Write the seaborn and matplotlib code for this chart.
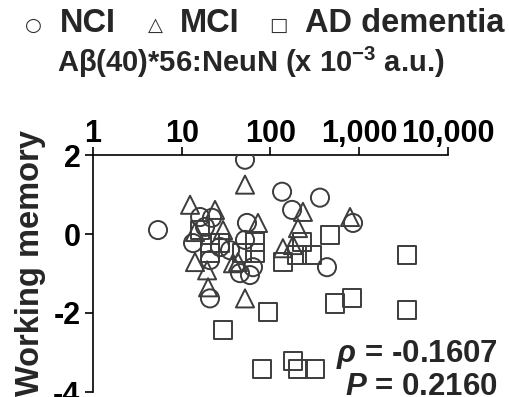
import numpy as np
import pandas as pd
import matplotlib
matplotlib.use("Agg")
import matplotlib.pyplot as plt
import seaborn as sns
from matplotlib.ticker import LogLocator, FuncFormatter, NullFormatter

# Data
nci_x = [5.4, 16.1, 21.9, 18.3, 13.4, 27.0, 35.0, 20.8, 20.8, 54.3,
         51.6, 45.3, 58.7, 63.5, 51.6, 135, 361, 175, 851, 433]
nci_y = [0.10, 0.43, 0.41, 0.18, -0.23, -0.33, -0.41, -0.66, -1.63, 0.28,
         -0.15, -0.99, -1.04, -0.84, 1.88, 1.07, 0.92, 0.61, 0.28, -0.84]

mci_x = [12.4, 23.7, 14.1, 29.2, 14.1, 19.3, 19.8, 37.8, 51.6, 51.6,
         72.3, 43.0, 138, 179, 204, 232, 787]
mci_y = [0.74, 0.61, 0.05, 0.10, -0.71, -0.92, -1.35, -0.74, 1.25, -1.63,
         0.28, -0.71, -0.36, -0.28, 0.15, 0.56, 0.43]

ad_x = [16.1, 20.8, 20.8, 27.0, 66.9, 47.7, 66.9, 29.2, 93.7, 80.2,
        179, 204, 317, 138, 199, 294, 226, 468, 533, 828, 3450, 3450]
ad_y = [0.10, -0.23, -0.48, -0.23, -0.20, -0.48, -0.48, -2.44, -1.98, -3.41,
        -3.21, -3.41, -3.41, -0.71, -0.53, -0.53, -0.20, -0.03, -1.76, -1.63, -0.53, -1.93]

groups = ["NCI", "MCI", "AD dementia"]
x_ticks = [1, 10, 100, 1000, 10000]
y_ticks = [2, 0, -2, -4]
rho_text = "-0.1607"
p_text = "0.2160"

df = pd.DataFrame({
    "abeta": nci_x + mci_x + ad_x,
    "wm": nci_y + mci_y + ad_y,
    "group": ["NCI"] * len(nci_x) + ["MCI"] * len(mci_x) + ["AD dementia"] * len(ad_x),
})

sns.set_style("ticks")
plt.rcParams["font.family"] = ["Liberation Sans", "DejaVu Sans"]
plt.rcParams["font.weight"] = "bold"
plt.rcParams["axes.unicode_minus"] = False
plt.rcParams["mathtext.fontset"] = "custom"
plt.rcParams["mathtext.rm"] = "Liberation Sans:bold"
plt.rcParams["mathtext.it"] = "Liberation Sans:bold:italic"
plt.rcParams["mathtext.default"] = "regular"

fig = plt.figure(figsize=(5.1, 3.97), dpi=100)
ax = fig.add_axes([93 / 510, 1 - 392 / 397, (448 - 93) / 510, (392 - 155) / 397])

edge = "#3c3c3c"
sns.scatterplot(data=df, x="abeta", y="wm", style="group", style_order=groups,
                markers={"NCI": "o", "MCI": "^", "AD dementia": "s"},
                s=170, fc="none", ec=edge, linewidth=1.4, legend=False, ax=ax, zorder=3)

ax.set_xscale("log")
ax.set_xlim(1, 10000)
ax.set_ylim(-4, 2)
ax.set_xticks(x_ticks)
ax.xaxis.set_minor_locator(LogLocator(base=10, subs=np.arange(2, 10)))
ax.xaxis.set_major_formatter(FuncFormatter(lambda v, p: f"{v:,.0f}"))
ax.xaxis.set_minor_formatter(NullFormatter())
ax.set_yticks(y_ticks)
ax.xaxis.tick_top()

ax.spines["bottom"].set_visible(False)
ax.spines["right"].set_visible(False)
for s in ["top", "left"]:
    ax.spines[s].set_linewidth(1.2)
    ax.spines[s].set_color("black")

ax.tick_params(axis="both", which="major", length=6, width=1.2, labelsize=22, colors="black")
ax.tick_params(axis="x", which="major", pad=-1.5)
ax.tick_params(axis="x", which="minor", length=3, width=1.0)
ax.tick_params(axis="y", pad=3)
ax.set_xlabel("")
ax.set_ylabel("")
for lab in ax.get_xticklabels() + ax.get_yticklabels():
    lab.set_fontweight("bold")

# legend-like header
sym_kw = dict(fontsize=14, ha="center", va="baseline", color="#333333",
              family=["DejaVu Sans"], fontweight="normal")
fig.text(33 / 510, 1 - 31 / 397, "○", **sym_kw)
fig.text(155 / 510, 1 - 31 / 397, "△", **sym_kw)
fig.text(278 / 510, 1 - 31 / 397, "□", **sym_kw)
lab_kw = dict(fontsize=23.5, ha="left", va="baseline", fontweight="bold")
fig.text(60 / 510, 1 - 32 / 397, groups[0], **lab_kw)
fig.text(180 / 510, 1 - 32 / 397, groups[1], **lab_kw)
fig.text(305 / 510, 1 - 32 / 397, groups[2], **lab_kw)
fig.text(57 / 510, 1 - 72 / 397, "Aβ(40)*56:NeuN (x 10$^{-3}$ a.u.)",
         fontsize=21, ha="left", va="baseline", fontweight="bold")

fig.text(31 / 510, 1 - 263 / 397, "Working memory", rotation=90, fontsize=23.5,
         fontweight="bold", ha="center", va="center")

fig.text(498 / 510, 1 - 362 / 397, r"$\mathit{\rho}$ = " + rho_text, fontsize=22.5,
         fontweight="bold", ha="right", va="baseline")
fig.text(498 / 510, 1 - 395 / 397, r"$\mathit{P}$ = " + p_text, fontsize=22.5,
         fontweight="bold", ha="right", va="baseline")

fig.savefig("out.png", dpi=100)
